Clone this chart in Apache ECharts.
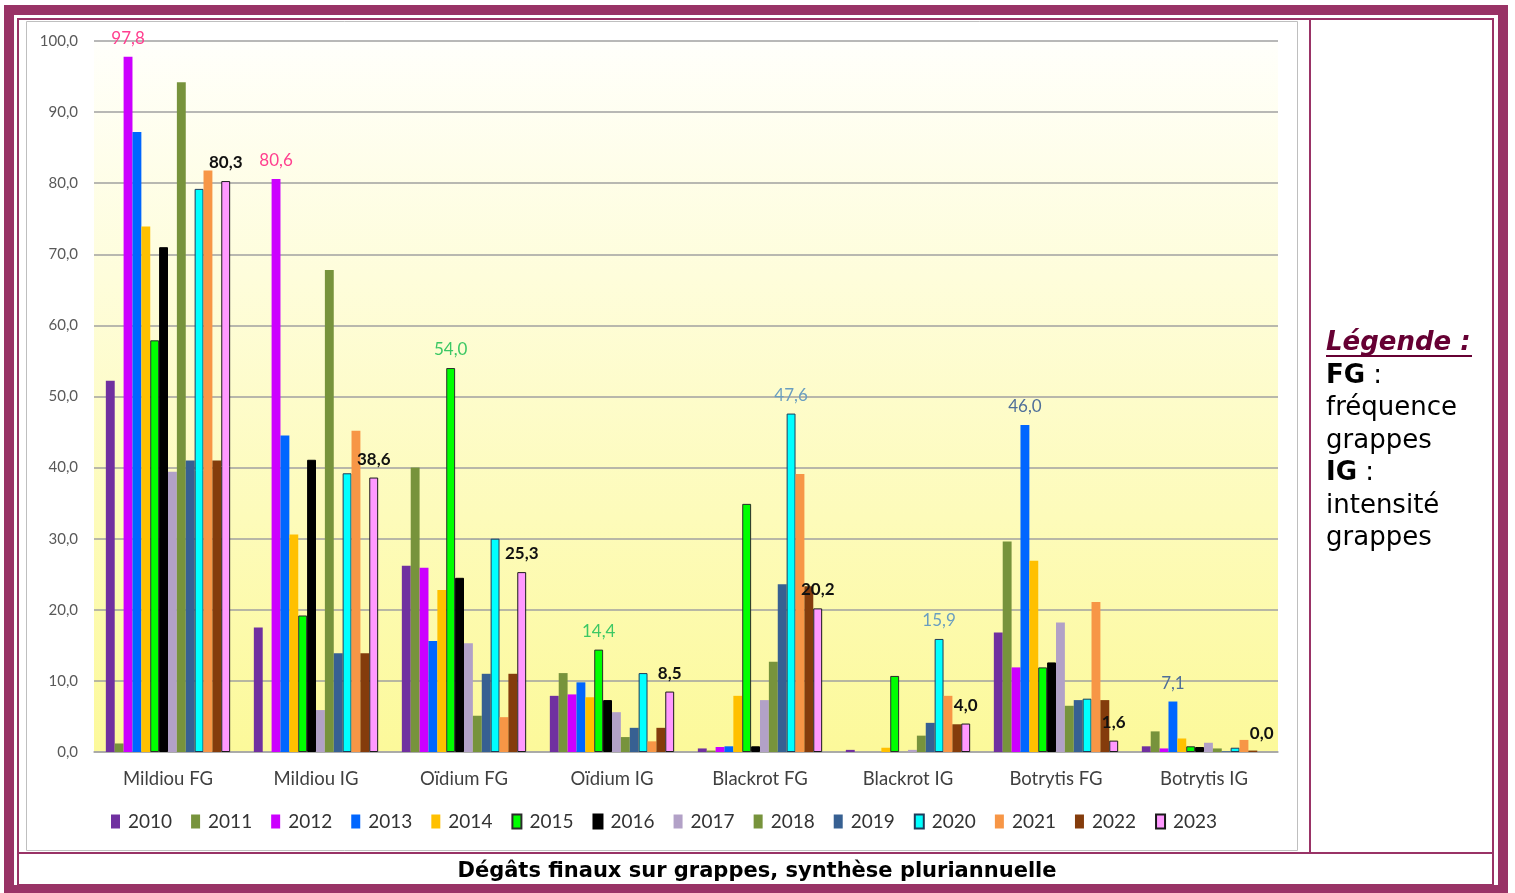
<!DOCTYPE html>
<html>
<head>
<meta charset="utf-8">
<script src="https://cdn.jsdelivr.net/npm/echarts@6/dist/echarts.min.js"></script>
<style>
html,body{margin:0;padding:0;background:#fff;}
#c{width:1515px;height:893px;}
</style>
</head>
<body>
<div id="c"></div>
<script>
const categories = ['Mildiou FG','Mildiou IG','Oïdium FG','Oïdium IG','Blackrot FG','Blackrot IG','Botrytis FG','Botrytis IG'];
const years = ['2010','2011','2012','2013','2014','2015','2016','2017','2018','2019','2020','2021','2022','2023'];
const v2010 = [52.2, 17.5, 26.2, 7.9, 0.5, 0.3, 16.8, 0.8];
const v2011 = [1.2, 0, 40.0, 11.1, 0.2, 0, 29.6, 2.9];
const v2012 = [97.8, 80.6, 25.9, 8.1, 0.7, 0, 11.9, 0.5];
const v2013 = [87.2, 44.5, 15.6, 9.8, 0.8, 0, 46.0, 7.1];
const v2014 = [73.9, 30.6, 22.8, 7.7, 7.9, 0.6, 26.9, 1.9];
const v2015 = [57.9, 19.2, 54.0, 14.4, 34.9, 10.7, 11.9, 0.8];
const v2016 = [71.0, 41.1, 24.5, 7.3, 0.8, 0, 12.6, 0.7];
const v2017 = [39.4, 5.9, 15.3, 5.6, 7.3, 0.3, 18.2, 1.3];
const v2018 = [94.2, 67.8, 5.1, 2.1, 12.7, 2.3, 6.5, 0.5];
const v2019 = [41.0, 13.9, 11.0, 3.4, 23.6, 4.1, 7.3, 0.1];
const v2020 = [79.2, 39.2, 30.0, 11.1, 47.6, 15.9, 7.5, 0.6];
const v2021 = [81.8, 45.2, 4.9, 1.5, 39.1, 7.9, 21.1, 1.7];
const v2022 = [41.0, 13.9, 11.0, 3.4, 23.3, 3.9, 7.3, 0.2];
const v2023 = [80.3, 38.6, 25.3, 8.5, 20.2, 4.0, 1.6, 0.0];
const yTicks = [0,10,20,30,40,50,60,70,80,90,100];

const values = [v2010,v2011,v2012,v2013,v2014,v2015,v2016,v2017,v2018,v2019,v2020,v2021,v2022,v2023];
const colors = ['#7030a0','#77933c','#cc00ff','#0066ff','#ffc000','#00ff00','#000000','#b2a1c7','#77933c','#376092','#00ffff','#f79646','#843c0c','#ff99ff'];
const borders = [null,null,null,null,null,'#2b2b2b','#000000',null,null,null,'#1f3a5a',null,null,'#1a1a1a'];
// which bars carry a value label, and label colour
const labelSpec = {
  '2012': {idx:[0,1], color:'#ff3f8f', weight:'normal'},
  '2015': {idx:[2,3], color:'#3cc864', weight:'normal'},
  '2020': {idx:[4,5], color:'#6a9ec0', weight:'normal'},
  '2013': {idx:[6,7], color:'#4f6f99', weight:'normal'},
  '2023': {idx:[0,1,2,3,4,5,6,7], color:'#111111', weight:'bold'}
};
const fmt = v => v.toFixed(1).replace('.', ',');

const series = years.map((y, si) => {
  const spec = labelSpec[y];
  return {
    name: y,
    type: 'bar',
    barGap: '0%',
    barCategoryGap: '16%',
    itemStyle: {
      color: colors[si],
      borderColor: borders[si] || colors[si],
      borderWidth: borders[si] ? 1 : 0
    },
    data: values[si].map((v, ci) => {
      const item = {value: v};
      if (v === 0) item.itemStyle = {borderWidth: 0};
      if (spec && spec.idx.includes(ci)) {
        item.label = {show: true, position: 'top', distance: 10,
          color: spec.color, fontWeight: spec.weight, fontSize: 17,
          fontFamily: 'Lato', formatter: p => fmt(p.value)};
      }
      return item;
    })
  };
});

const chart = echarts.init(document.getElementById('c'), null, {renderer: 'canvas'});
const maroon = '#993366';
chart.setOption({
  backgroundColor: '#ffffff',
  animation: false,
  grid: {
    left: 94, right: 237, top: 41, bottom: 141,
    show: true, borderWidth: 0,
    backgroundColor: new echarts.graphic.LinearGradient(0, 0, 0, 1, [
      {offset: 0, color: '#fffffb'},
      {offset: 1, color: '#fcf99a'}
    ])
  },
  legend: {
    data: years,
    left: 106, top: 807,
    itemWidth: 9, itemHeight: 14,
    itemGap: 19,
    icon: 'rect',
    textStyle: {fontFamily: 'Lato', fontSize: 19, color: '#333333', padding: [0,0,0,3]}
  },
  xAxis: {
    type: 'category',
    data: categories,
    axisLine: {show: true, lineStyle: {color: '#a6a6a6', width: 1.5}},
    axisTick: {show: false},
    axisLabel: {fontFamily: 'Lato', fontSize: 18.5, color: '#404040', margin: 18}
  },
  yAxis: {
    type: 'value',
    min: yTicks[0], max: yTicks[yTicks.length-1], interval: 10,
    axisLine: {show: false},
    axisTick: {show: false},
    axisLabel: {fontFamily: 'Lato', fontSize: 15, color: '#595959', margin: 16, formatter: v => fmt(v)},
    splitLine: {lineStyle: {color: '#a0a0a0', width: 1.5}}
  },
  series: series,
  graphic: [
    {type: 'rect', z: 100, silent: true, shape: {x: 9, y: 10, width: 1494, height: 880},
      style: {fill: 'none', stroke: maroon, lineWidth: 10}},
    {type: 'rect', z: 100, silent: true, shape: {x: 18, y: 19, width: 1475, height: 866},
      style: {fill: 'none', stroke: maroon, lineWidth: 2}},
    {type: 'line', z: 100, silent: true, shape: {x1: 18, y1: 853, x2: 1493, y2: 853},
      style: {stroke: maroon, lineWidth: 2}},
    {type: 'line', z: 100, silent: true, shape: {x1: 1310, y1: 19, x2: 1310, y2: 853},
      style: {stroke: maroon, lineWidth: 2}},
    {type: 'rect', z: 100, silent: true, shape: {x: 26.5, y: 21.5, width: 1271, height: 829},
      style: {fill: 'none', stroke: '#bfbfbf', lineWidth: 1}},
    {type: 'text', z: 100, silent: true, x: 757, y: 872,
      style: {text: 'Dégâts finaux sur grappes, synthèse pluriannuelle', fontFamily: 'DejaVu Sans',
        fontWeight: 'bold', fontSize: 21, fill: '#000', align: 'center', verticalAlign: 'middle'}},
    {type: 'text', z: 100, silent: true, x: 1326, y: 343,
      style: {text: 'Légende :', fontFamily: 'DejaVu Sans', fontWeight: 'bold', fontStyle: 'italic',
        fontSize: 26, fill: '#660033', align: 'left', verticalAlign: 'middle'}},
    {type: 'line', z: 100, silent: true, shape: {x1: 1326, y1: 356, x2: 1472, y2: 356},
      style: {stroke: '#660033', lineWidth: 2}},
    {type: 'text', z: 100, silent: true, x: 1326, y: 376,
      style: {text: '{b|FG} :', fontFamily: 'DejaVu Sans', fontSize: 26, fill: '#000', align: 'left', verticalAlign: 'middle',
        rich: {b: {fontFamily: 'DejaVu Sans', fontWeight: 'bold', fontSize: 26, fill: '#000'}}}},
    {type: 'text', z: 100, silent: true, x: 1326, y: 408,
      style: {text: 'fréquence', fontFamily: 'DejaVu Sans', fontSize: 26, fill: '#000', align: 'left', verticalAlign: 'middle'}},
    {type: 'text', z: 100, silent: true, x: 1326, y: 441,
      style: {text: 'grappes', fontFamily: 'DejaVu Sans', fontSize: 26, fill: '#000', align: 'left', verticalAlign: 'middle'}},
    {type: 'text', z: 100, silent: true, x: 1326, y: 473,
      style: {text: '{b|IG} :', fontFamily: 'DejaVu Sans', fontSize: 26, fill: '#000', align: 'left', verticalAlign: 'middle',
        rich: {b: {fontFamily: 'DejaVu Sans', fontWeight: 'bold', fontSize: 26, fill: '#000'}}}},
    {type: 'text', z: 100, silent: true, x: 1326, y: 506,
      style: {text: 'intensité', fontFamily: 'DejaVu Sans', fontSize: 26, fill: '#000', align: 'left', verticalAlign: 'middle'}},
    {type: 'text', z: 100, silent: true, x: 1326, y: 538,
      style: {text: 'grappes', fontFamily: 'DejaVu Sans', fontSize: 26, fill: '#000', align: 'left', verticalAlign: 'middle'}}
  ]
});
</script>
</body>
</html>
